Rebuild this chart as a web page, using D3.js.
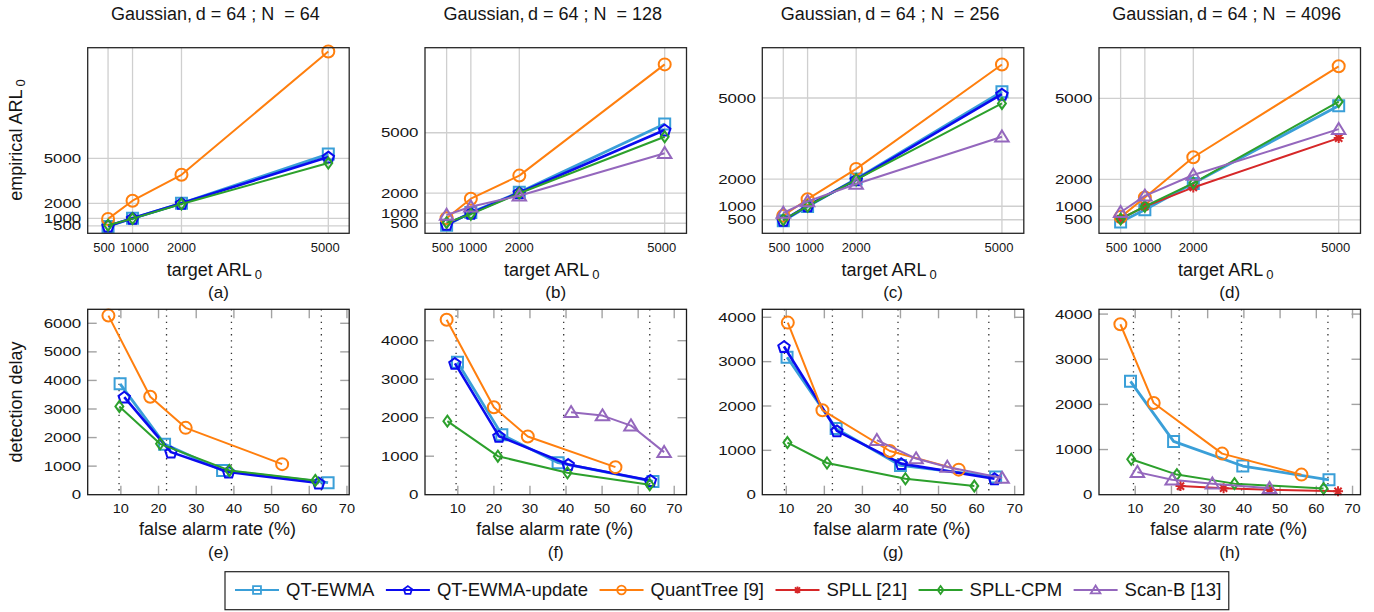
<!DOCTYPE html>
<html>
<head>
<meta charset="utf-8">
<script src="https://cdn.jsdelivr.net/npm/d3@7"></script>
<style>
  body { margin: 0; background: #fff; }
  svg text { font-family: "Liberation Sans", Arial, Helvetica, sans-serif; fill: #151515; }
</style>
</head>
<body>
<svg id="fig" width="1374" height="612"></svg>
<script>
// ---------------- data ----------------
const methods = ["QT-EWMA", "QT-EWMA-update", "QuantTree [9]", "SPLL [21]", "SPLL-CPM", "Scan-B [13]"];
const sampleSizes = [64, 128, 256, 4096];
const dimension = 64;
const topLetters = ["(a)", "(b)", "(c)", "(d)"];
const bottomLetters = ["(e)", "(f)", "(g)", "(h)"];

// target ARL0 values (x of the top row) and their tick labels
const targetARL = [500, 1000, 2000, 5000];
const arlTicks = [500, 1000, 2000, 5000];

// empirical ARL0, one row per method (null = method not run)
const arlN64 = [
  [450, 1000, 2000, 5280],
  [480, 1000, 2000, 5080],
  [960, 2170, 3900, 12120],
  null,
  [540, 980, 1950, 4680],
  null
];
const arlN128 = [
  [400, 1030, 2040, 5440],
  [450, 1000, 2020, 5140],
  [750, 1720, 2870, 8400],
  null,
  [530, 950, 1990, 4800],
  [910, 1320, 1870, 3980]
];
const arlN256 = [
  [460, 990, 2010, 5230],
  [480, 1020, 1980, 5140],
  [650, 1260, 2380, 6240],
  null,
  [500, 1000, 1980, 4800],
  [750, 1180, 1820, 3570]
];
const arlN4096 = [
  [420, 870, 1850, 4730],
  null,
  [600, 1330, 2820, 6190],
  [540, 990, 1700, 3530],
  [530, 1000, 1860, 4880],
  [780, 1390, 2160, 3860]
];

// false alarm rate (%) and detection delay, one row per method
const farN64 = [
  [9.8, 21.6, 37.0, 65.0],
  [10.9, 23.3, 38.6, 62.5],
  [6.7, 17.8, 27.2, 52.8],
  null,
  [9.6, 20.4, 38.8, 61.6],
  null
];
const delayN64 = [
  [3880, 1770, 850, 420],
  [3415, 1490, 795, 410],
  [6270, 3430, 2340, 1070],
  null,
  [3090, 1780, 850, 500],
  null
];
const farN128 = [
  [9.9, 22.2, 37.8, 64.1],
  [9.2, 21.4, 40.6, 63.4],
  [6.9, 20.0, 29.4, 53.7],
  null,
  [7.1, 21.1, 40.4, 63.2],
  [41.4, 50.1, 58.0, 67.2]
];
const delayN128 = [
  [3440, 1560, 830, 345],
  [3410, 1520, 785, 370],
  [4545, 2270, 1510, 715],
  null,
  [1910, 1000, 570, 260],
  [2140, 2055, 1795, 1105]
];
const farN256 = [
  [10.2, 23.1, 40.0, 65.0],
  [9.4, 23.3, 40.2, 64.7],
  [10.4, 19.5, 37.2, 55.3],
  null,
  [10.3, 20.7, 41.3, 59.4],
  [33.8, 44.1, 52.3, 66.7]
];
const delayN256 = [
  [3100, 1490, 660, 400],
  [3340, 1440, 700, 360],
  [3880, 1905, 985, 565],
  null,
  [1175, 715, 360, 195],
  [1230, 815, 625, 375]
];
const farN4096 = [
  [8.7, 20.6, 39.7, 63.5],
  null,
  [5.9, 15.1, 34.0, 55.9],
  [22.5, 34.4, 47.1, 66.0],
  [8.9, 21.5, 37.4, 62.0],
  [10.6, 20.2, 31.3, 47.1]
];
const delayN4096 = [
  [2510, 1180, 635, 330],
  null,
  [3775, 2030, 910, 445],
  [190, 145, 110, 75],
  [785, 445, 245, 135],
  [500, 330, 245, 145]
];

// expected false alarm rates (%) for target ARL0 = 5000, 2000, 1000, 500
const expectedFAR = [9.52, 22.12, 39.35, 63.21];
const farTicks = [10, 20, 30, 40, 50, 60, 70];
const delayTicksN64 = [0, 1000, 2000, 3000, 4000, 5000, 6000];
const delayTicks = [0, 1000, 2000, 3000, 4000];

const arlData = [arlN64, arlN128, arlN256, arlN4096];
const farData = [farN64, farN128, farN256, farN4096];
const delayData = [delayN64, delayN128, delayN256, delayN4096];
const delayTickSets = [delayTicksN64, delayTicks, delayTicks, delayTicks];

// ---------------- axis extents ----------------
const arlXDomains = [[84, 5427], [54, 5450], [68, 5450], [54, 5450]];
const arlYMax = [12370, 9230, 6860, 6880];
const farXDomains = [[1.2, 70.6], [0.9, 73.4], [3.7, 72.4], [0, 72.2]];
const delayYMax = [6490, 4815, 4180, 4106];

// ---------------- styling ----------------
const colors = ["#3a9fd8", "#0b0bef", "#ff7f0e", "#d62728", "#2ca02c", "#9467bd"];
const markers = ["square", "pentagon", "circle", "asterisk", "diamond", "triangle"];
const lineW = [2.8, 2.6, 2, 2, 2, 2];
const markerSize = { square: 11, pentagon: 12, circle: 12, asterisk: 10, diamond: 11, triangle: 12 };
// small horizontal nudges so the crowded low-ARL tick labels stay apart
const arlTickNudge = [-4, 2, 0, -3];

const panelLeft = [87.7, 425, 762.3, 1099];
const panelW = 261.5;
const topRow = { y0: 47.7, y1: 233.3 };
const botRow = { y0: 309.3, y1: 494.7 };

const svg = d3.select("#fig");

function markerPath(type, s) {
  if (type === "square") {
    const h = s / 2;
    return `M${-h},${-h}H${h}V${h}H${-h}Z`;
  }
  if (type === "circle") {
    const r = s / 2;
    return `M${r},0A${r},${r} 0 1,1 ${-r},0A${r},${r} 0 1,1 ${r},0Z`;
  }
  if (type === "pentagon") {
    const r = s / 2;
    const pts = d3.range(5).map(k => {
      const a = (-90 + k * 72) * Math.PI / 180;
      return [r * Math.cos(a), r * Math.sin(a) + r * 0.1];
    });
    return "M" + pts.map(p => p.join(",")).join("L") + "Z";
  }
  if (type === "diamond") {
    const h = s / 2, w = s * 0.36;
    return `M0,${-h}L${w},0L0,${h}L${-w},0Z`;
  }
  if (type === "triangle") {
    return `M0,${-s * 0.52}L${s * 0.56},${s * 0.4}L${-s * 0.56},${s * 0.4}Z`;
  }
  // asterisk
  const h = s / 2, d = h * 0.72;
  return `M${-h},0H${h}M0,${-h}V${h}M${-d},${-d}L${d},${d}M${-d},${d}L${d},${-d}`;
}

function drawMarker(g, type, x, y, color, scale, sw) {
  g.append("path")
    .attr("d", markerPath(type, markerSize[type] * scale))
    .attr("transform", `translate(${x},${y})`)
    .attr("fill", "none")
    .attr("stroke", color)
    .attr("stroke-width", sw)
    .attr("stroke-linejoin", "miter");
}

function stretchedText(g, x, y, str, size, anchor, sx) {
  return g.append("text")
    .attr("transform", `translate(${x},${y}) scale(${sx},1)`)
    .attr("text-anchor", anchor)
    .attr("font-size", size)
    .text(str);
}

function drawSeries(g, xs, ys, x, y, i) {
  const line = d3.line().x((d, k) => x(xs[k])).y(d => y(d));
  g.append("path")
    .datum(ys)
    .attr("d", line)
    .attr("fill", "none")
    .attr("stroke", colors[i])
    .attr("stroke-width", lineW[i])
    .attr("stroke-linejoin", "round");
  ys.forEach((v, k) => drawMarker(g, markers[i], x(xs[k]), y(v), colors[i], 1, 2));
}

// ---------------- top row: empirical vs target ARL0 ----------------
sampleSizes.forEach((N, p) => {
  const left = panelLeft[p], right = left + panelW;
  const x = d3.scaleLinear().domain(arlXDomains[p]).range([left, right]);
  const y = d3.scaleLinear().domain([0, arlYMax[p]]).range([topRow.y1, topRow.y0]);
  const g = svg.append("g");

  // grid
  g.selectAll(null).data(arlTicks).join("line")
    .attr("x1", d => x(d)).attr("x2", d => x(d))
    .attr("y1", topRow.y0).attr("y2", topRow.y1)
    .attr("stroke", "#cfcfcf").attr("stroke-width", 1.3);
  g.selectAll(null).data(arlTicks).join("line")
    .attr("x1", left).attr("x2", right)
    .attr("y1", d => y(d)).attr("y2", d => y(d))
    .attr("stroke", "#cfcfcf").attr("stroke-width", 1.3);

  // series
  const data = arlData[p];
  data.forEach((ys, i) => { if (ys) drawSeries(g, targetARL, ys, x, y, i); });

  // frame
  g.append("rect")
    .attr("x", left).attr("y", topRow.y0)
    .attr("width", panelW).attr("height", topRow.y1 - topRow.y0)
    .attr("fill", "none").attr("stroke", "#262626").attr("stroke-width", 1.3);

  // tick labels
  arlTicks.forEach((t, k) => {
    stretchedText(g, x(t) + arlTickNudge[k], topRow.y1 + 19, d3.format("d")(t), 13, "middle", 1.0);
    stretchedText(g, left - 6.5, y(t) + 4.6, d3.format("d")(t), 13, "end", 1.3);
  });

  // axis label
  const xl = g.append("text")
    .attr("x", (left + right) / 2 - 4).attr("y", 276)
    .attr("text-anchor", "middle").attr("font-size", 18);
  xl.append("tspan").text("target ARL");
  xl.append("tspan").attr("dx", 3).attr("dy", 3).attr("font-size", 13).text("0");

  // panel title
  g.append("text")
    .attr("x", (left + right) / 2 - 3).attr("y", 20)
    .attr("text-anchor", "middle").attr("font-size", 18)
    .style("white-space", "pre")
    .text(`Gaussian,\u2009d = ${dimension} ; N  = ${N}`);

  g.append("text")
    .attr("x", (left + right) / 2).attr("y", 298)
    .attr("text-anchor", "middle").attr("font-size", 17)
    .text(topLetters[p]);
});

// ---------------- bottom row: detection delay vs false alarm rate ----------------
sampleSizes.forEach((N, p) => {
  const left = panelLeft[p], right = left + panelW;
  const x = d3.scaleLinear().domain(farXDomains[p]).range([left, right]);
  const y = d3.scaleLinear().domain([0, delayYMax[p]]).range([botRow.y1, botRow.y0]);
  const g = svg.append("g");
  const yTicks = delayTickSets[p];

  // expected false alarm rates
  g.selectAll(null).data(expectedFAR).join("line")
    .attr("x1", d => x(d)).attr("x2", d => x(d))
    .attr("y1", botRow.y0).attr("y2", botRow.y1)
    .attr("stroke", "#333").attr("stroke-width", 1.3)
    .attr("stroke-dasharray", "1.3,4.9");

  // inner tick marks on all four sides
  const tl = 9;
  const tickStyle = sel => sel.attr("stroke", "#a3a3a3").attr("stroke-width", 1.4);
  g.selectAll(null).data(farTicks.filter(t => x(t) < right - 1)).join("line")
    .attr("x1", d => x(d)).attr("x2", d => x(d))
    .attr("y1", botRow.y0).attr("y2", botRow.y0 + tl).call(tickStyle);
  g.selectAll(null).data(farTicks.filter(t => x(t) < right - 1)).join("line")
    .attr("x1", d => x(d)).attr("x2", d => x(d))
    .attr("y1", botRow.y1).attr("y2", botRow.y1 - tl).call(tickStyle);
  g.selectAll(null).data(yTicks.slice(1)).join("line")
    .attr("x1", right).attr("x2", right - tl)
    .attr("y1", d => y(d)).attr("y2", d => y(d)).call(tickStyle);
  g.selectAll(null).data(yTicks.slice(1)).join("line")
    .attr("x1", left).attr("x2", left + tl)
    .attr("y1", d => y(d)).attr("y2", d => y(d)).call(tickStyle);

  // series
  const fars = farData[p], delays = delayData[p];
  delays.forEach((ys, i) => { if (ys) drawSeries(g, fars[i], ys, x, y, i); });

  // frame
  g.append("rect")
    .attr("x", left).attr("y", botRow.y0)
    .attr("width", panelW).attr("height", botRow.y1 - botRow.y0)
    .attr("fill", "none").attr("stroke", "#1a1a1a").attr("stroke-width", 1.3);

  farTicks.forEach(t => {
    stretchedText(g, x(t), botRow.y1 + 18.5, String(t), 13, "middle", 1.12);
  });
  yTicks.forEach(t => {
    stretchedText(g, left - 6.5, y(t) + 4.6, String(t), 13, "end", 1.3);
  });

  g.append("text")
    .attr("x", (left + right) / 2 - 1).attr("y", 535)
    .attr("text-anchor", "middle").attr("font-size", 18)
    .text("false alarm rate (%)");

  g.append("text")
    .attr("x", (left + right) / 2).attr("y", 558)
    .attr("text-anchor", "middle").attr("font-size", 17)
    .text(bottomLetters[p]);
});

// ---------------- y-axis titles ----------------
const yl1 = svg.append("text")
  .attr("transform", "translate(22,140) rotate(-90)")
  .attr("text-anchor", "middle").attr("font-size", 18);
yl1.append("tspan").text("empirical ARL");
yl1.append("tspan").attr("dx", 3).attr("dy", 3).attr("font-size", 13).text("0");

svg.append("text")
  .attr("transform", "translate(22,402) rotate(-90)")
  .attr("text-anchor", "middle").attr("font-size", 18)
  .text("detection delay");

// ---------------- legend ----------------
const legend = svg.append("g");
const legBox = legend.append("rect")
  .attr("y", 571.7).attr("height", 38)
  .attr("fill", "#fff").attr("stroke", "#222").attr("stroke-width", 1.2);
let cx = 235;
methods.forEach((name, i) => {
  legend.append("line")
    .attr("x1", cx).attr("x2", cx + 44)
    .attr("y1", 590).attr("y2", 590)
    .attr("stroke", colors[i]).attr("stroke-width", 2.2);
  drawMarker(legend, markers[i], cx + 22, 590, colors[i], 0.72, 1.8);
  const t = legend.append("text")
    .attr("x", cx + 51).attr("y", 596)
    .attr("font-size", 18.5)
    .text(name);
  cx = cx + 51 + t.node().getComputedTextLength() + 11.5;
});
legBox.attr("x", 225).attr("width", cx - 225 - 4);
</script>
</body>
</html>
